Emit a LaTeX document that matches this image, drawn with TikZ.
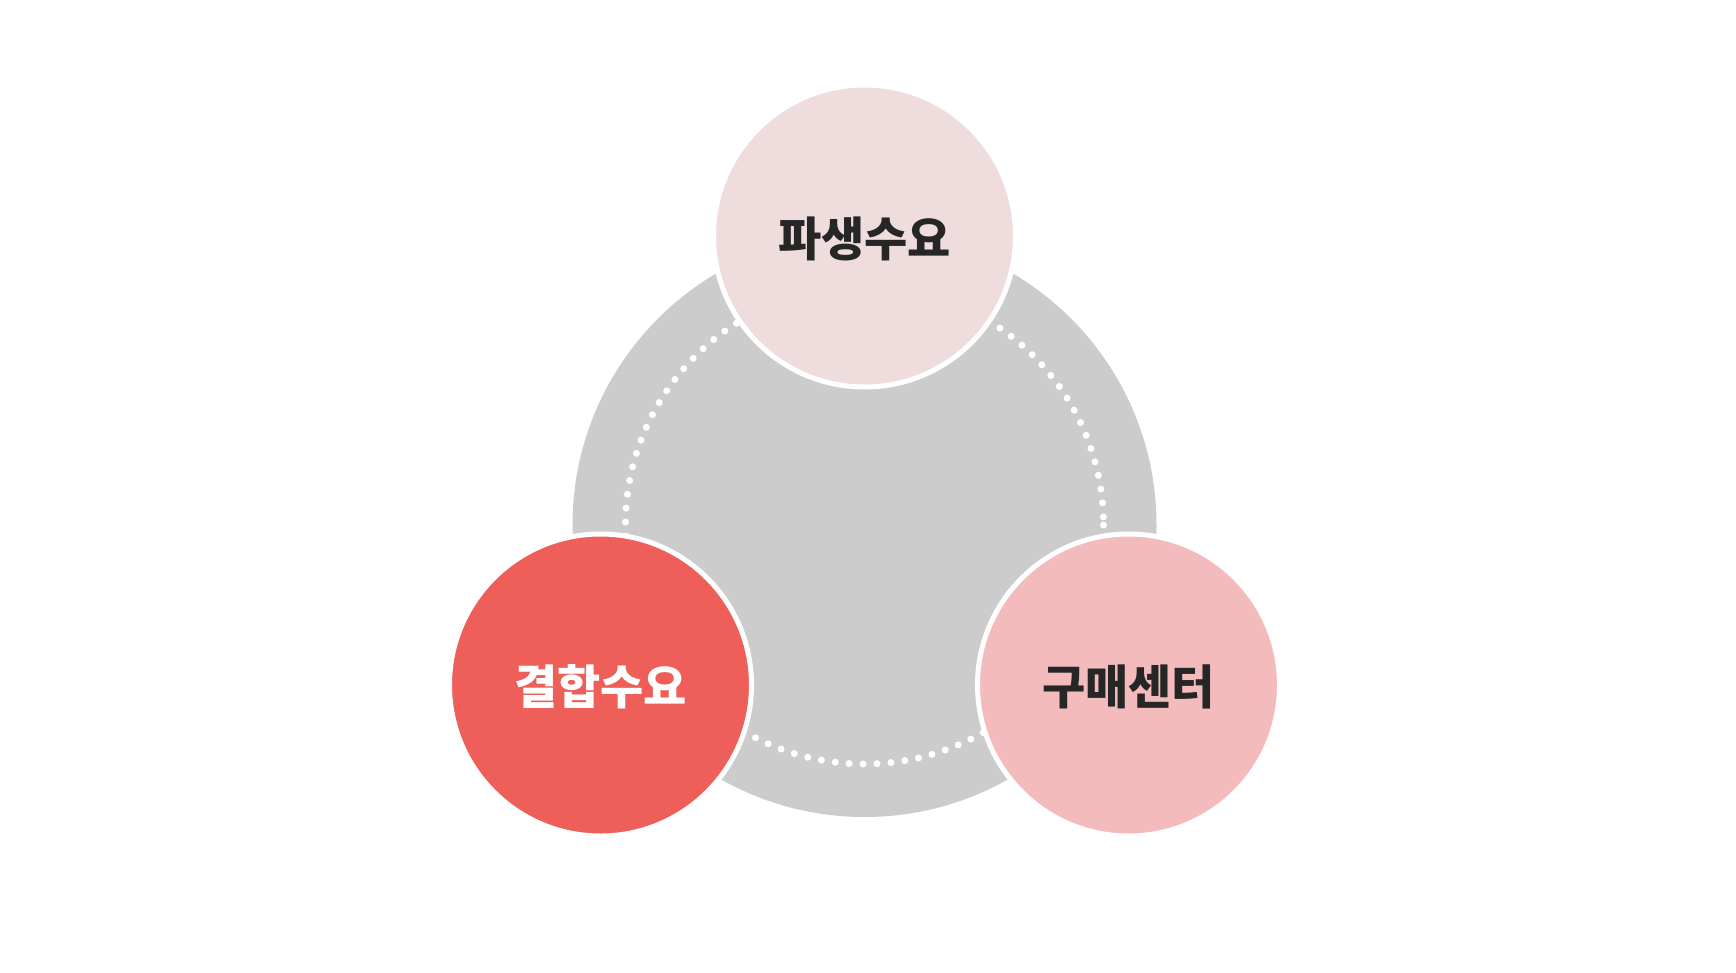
\documentclass[tikz,border=0pt]{standalone}
\usepackage{fontspec}
\setmainfont{Noto Sans CJK KR}
\definecolor{topfill}{HTML}{EFDDDE}
\definecolor{redfill}{HTML}{EE5F59}
\definecolor{pinkfill}{HTML}{F3BBBC}
\definecolor{graybg}{HTML}{CCCCCC}
\definecolor{darktext}{HTML}{262626}
\begin{document}
\begin{tikzpicture}[x=1pt,y=-1pt,
  bubble/.style={circle, draw=white, line width=5pt, inner sep=0pt,
    minimum size=302pt},
  label/.style={inner sep=0pt, font=\fontsize{47}{52}\selectfont\bfseries}]
\useasboundingbox (0,0) rectangle (1736,972);
\fill[white] (0,0) rectangle (1736,972);
\coordinate (O) at (864.5,525);
\fill[graybg] (O) circle (292);
\draw[white, line width=7pt, line cap=round, dash pattern=on 0pt off 13.96pt] (O) circle (239);
\node[bubble, fill=topfill] (deriv) at (864.5,236) {};
\node[bubble, fill=redfill] (joint) at (600.5,685) {};
\node[bubble, fill=pinkfill] (buy) at (1128.5,685) {};
\node[label, text=darktext] (derivtext) at ([yshift=-3pt]deriv.center) {파생수요};
\node[label, text=white] (jointtext) at ([yshift=-2pt]joint.center) {결합수요};
\node[label, text=darktext] (buytext) at ([yshift=-2pt]buy.center) {구매센터};
\end{tikzpicture}
\end{document}
